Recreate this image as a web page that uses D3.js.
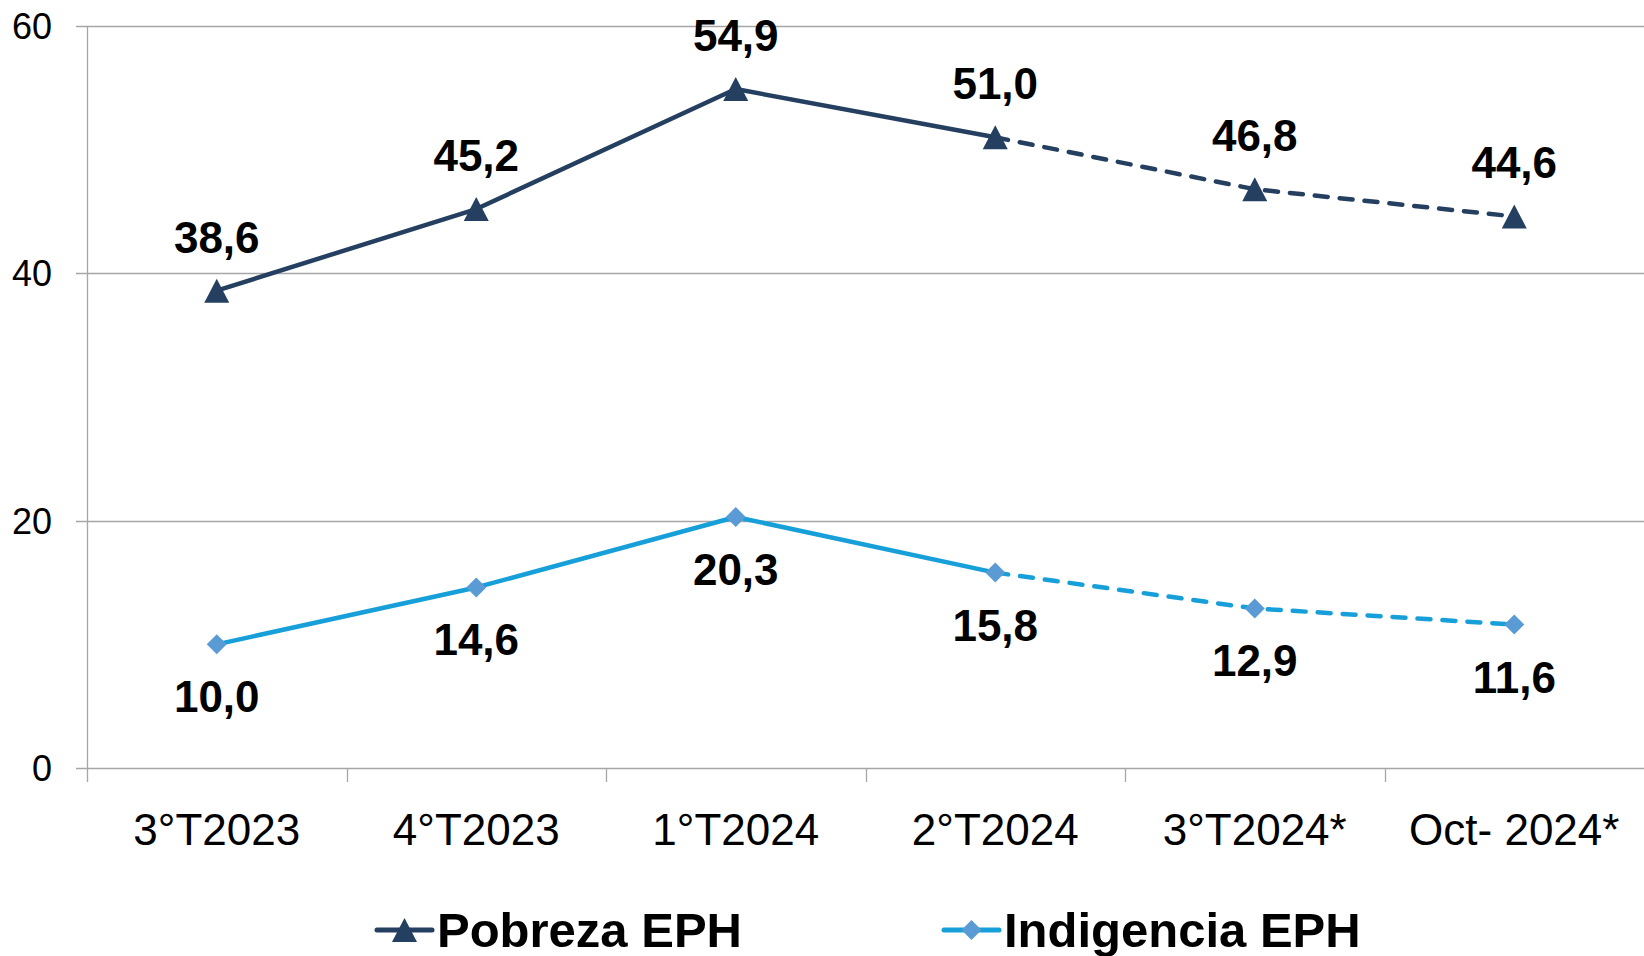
<!DOCTYPE html>
<html>
<head>
<meta charset="utf-8">
<script src="https://cdnjs.cloudflare.com/ajax/libs/d3/7.8.5/d3.min.js"></script>
<style>
  body { margin: 0; background: #fff; }
  svg { display: block; font-family: "Liberation Sans", Arial, sans-serif; }
</style>
</head>
<body>
<script>
// categories and series
let periods = ["3°T2023", "4°T2023", "1°T2024", "2°T2024", "3°T2024*", "Oct- 2024*"];
let pobreza = [38.6, 45.2, 54.9, 51.0, 46.8, 44.6];
let indigencia = [10.0, 14.6, 20.3, 15.8, 12.9, 11.6];
let yTicks = [0, 20, 40, 60];
let seriesNames = ["Pobreza EPH", "Indigencia EPH"];
let solidUntil = 3; // index of 2°T2024, dashed after this

let width = 1644, height = 956;
let margin = {top: 26, right: 0, bottom: 188, left: 87};

let svg = d3.select("body").append("svg")
    .attr("width", width)
    .attr("height", height);

let x = d3.scaleBand()
    .domain(periods)
    .range([margin.left, width - margin.right])
    .padding(0);

let y = d3.scaleLinear()
    .domain([0, 60])
    .range([height - margin.bottom, margin.top]);

let cx = function (i) { return x(periods[i]) + x.bandwidth() / 2; };
let fmt = function (v) { return d3.format(".1f")(v).replace(".", ","); };

// gridlines
svg.append("g")
    .selectAll("line")
    .data(yTicks)
    .enter().append("line")
    .attr("x1", margin.left - 11)
    .attr("x2", width)
    .attr("y1", d => Math.round(y(d)) + 0.5)
    .attr("y2", d => Math.round(y(d)) + 0.5)
    .style("stroke", "#a6a6a6")
    .style("stroke-width", 1.3);

// y axis line
svg.append("line")
    .attr("x1", margin.left + 0.5).attr("x2", margin.left + 0.5)
    .attr("y1", y(60)).attr("y2", y(0) + 14)
    .style("stroke", "#a6a6a6")
    .style("stroke-width", 1.3);

// y tick labels
svg.append("g")
    .selectAll("text")
    .data(yTicks)
    .enter().append("text")
    .attr("x", 52)
    .attr("y", d => y(d))
    .attr("dy", "0.36em")
    .attr("text-anchor", "end")
    .style("font-size", "36px")
    .style("fill", "#000")
    .text(d => d);

// x ticks at band boundaries
let bounds = periods.map(p => x(p)).slice(1);
svg.append("g")
    .selectAll("line")
    .data(bounds)
    .enter().append("line")
    .attr("x1", d => Math.round(d) + 0.5)
    .attr("x2", d => Math.round(d) + 0.5)
    .attr("y1", y(0))
    .attr("y2", y(0) + 14)
    .style("stroke", "#a6a6a6")
    .style("stroke-width", 1.3);

// x labels
svg.append("g")
    .selectAll("text")
    .data(periods)
    .enter().append("text")
    .attr("x", (d, i) => cx(i))
    .attr("y", 845)
    .attr("text-anchor", "middle")
    .style("font-size", "44px")
    .style("fill", "#000")
    .text(d => d);

let line = d3.line()
    .x(d => cx(d.i))
    .y(d => y(d.v));

function drawSeries(values, color, dash) {
    let pts = values.map((v, i) => ({v: v, i: i}));
    svg.append("path")
        .datum(pts.slice(0, solidUntil + 1))
        .attr("d", line)
        .style("fill", "none")
        .style("stroke", color)
        .style("stroke-width", 4.5)
        .style("stroke-linejoin", "round");
    svg.append("path")
        .datum(pts.slice(solidUntil))
        .attr("d", line)
        .style("fill", "none")
        .style("stroke", color)
        .style("stroke-width", 4.5)
        .style("stroke-dasharray", dash)
        .style("stroke-linecap", "round");
    return pts;
}

// marker shapes: triangle 25 wide x 24 tall, square diamond 20 across
let triangle = function () {
    return "M0,-12L12.5,12L-12.5,12Z";
};
let diamond = function () {
    return "M0,-10L10,0L0,10L-10,0Z";
};

let pPts = drawSeries(pobreza, "#243f60", "13,12");
let iPts = drawSeries(indigencia, "#169fd8", "13,12");

svg.append("g")
    .selectAll("path")
    .data(pPts)
    .enter().append("path")
    .attr("d", triangle)
    .attr("transform", d => "translate(" + cx(d.i) + "," + y(d.v) + ")")
    .style("fill", "#243f60");

svg.append("g")
    .selectAll("path")
    .data(iPts)
    .enter().append("path")
    .attr("d", diamond)
    .attr("transform", d => "translate(" + cx(d.i) + "," + y(d.v) + ")")
    .style("fill", "#5b9bd5");

// data labels
svg.append("g")
    .selectAll("text")
    .data(pPts)
    .enter().append("text")
    .attr("x", d => cx(d.i))
    .attr("y", d => y(d.v) - 38)
    .attr("text-anchor", "middle")
    .style("font-size", "44px")
    .style("font-weight", "bold")
    .text(d => fmt(d.v));

svg.append("g")
    .selectAll("text")
    .data(iPts)
    .enter().append("text")
    .attr("x", d => cx(d.i))
    .attr("y", d => y(d.v) + 68)
    .attr("text-anchor", "middle")
    .style("font-size", "44px")
    .style("font-weight", "bold")
    .text(d => fmt(d.v));

// legend
let legend = [
    {name: seriesNames[0], color: "#243f60", mcolor: "#243f60", sym: triangle, x: 377},
    {name: seriesNames[1], color: "#169fd8", mcolor: "#5b9bd5", sym: diamond, x: 944}
];
let lg = svg.append("g").selectAll("g")
    .data(legend)
    .enter().append("g")
    .attr("transform", d => "translate(" + d.x + ",930)");
lg.append("line")
    .attr("x1", 0).attr("x2", 55)
    .style("stroke", d => d.color)
    .style("stroke-width", 5)
    .style("stroke-linecap", "round");
lg.append("path")
    .attr("d", d => d.sym())
    .attr("transform", "translate(27.5,0)")
    .style("fill", d => d.mcolor);
lg.append("text")
    .attr("x", 60)
    .attr("y", 17)
    .style("font-size", "49px")
    .style("font-weight", "bold")
    .text(d => d.name);
</script>
</body>
</html>
